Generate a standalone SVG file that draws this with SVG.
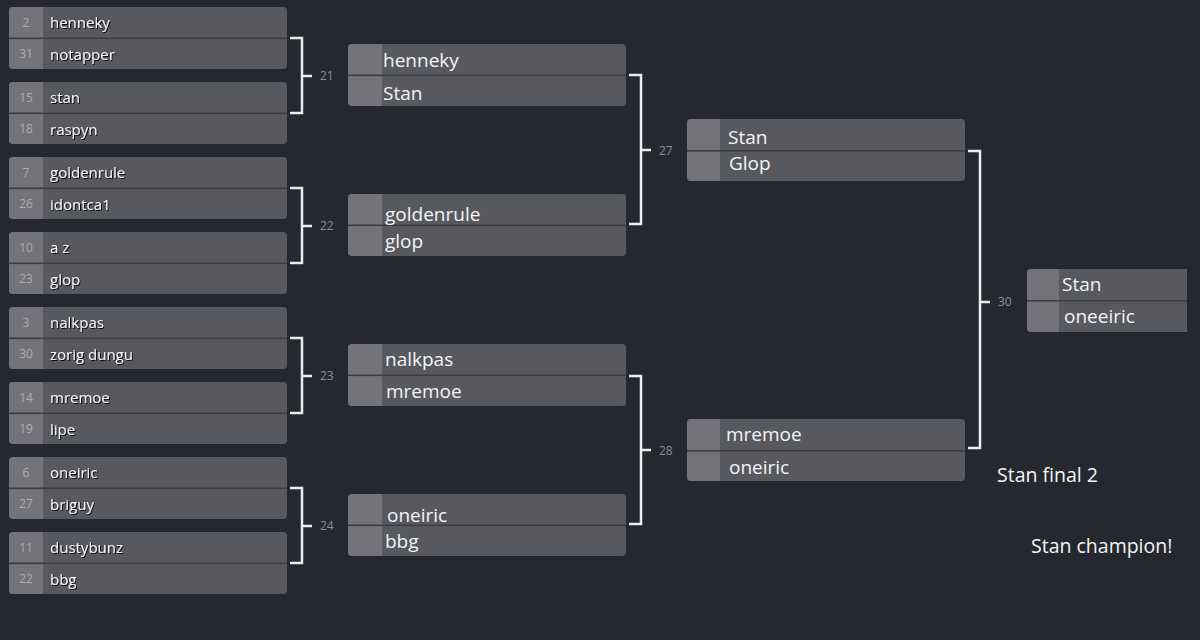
<svg xmlns="http://www.w3.org/2000/svg" xmlns:xlink="http://www.w3.org/1999/xlink" width="1200" height="640" viewBox="0 0 1200 640">
<style>
.bg{fill:#262830}
.nm1{font-family:"Open Sans","Liberation Sans",sans-serif;font-size:15px;fill:#f2f2f2;filter:url(#sh)}
.sd{font-family:"Open Sans","Liberation Sans",sans-serif;font-size:12px;fill:#acacb2;text-anchor:middle}
.nm2{font-family:"Open Sans","Liberation Sans",sans-serif;font-size:19px;fill:#f4f4f6}
.lbl{font-family:"Open Sans","Liberation Sans",sans-serif;font-size:12px;fill:#8c8d93}
.note{font-family:"Open Sans","Liberation Sans",sans-serif;font-size:19.5px;fill:#f4f4f6}
.br{fill:none;stroke:#ececec;stroke-width:2.5}
</style>
<defs>
<filter id="sh" x="-10%" y="-30%" width="130%" height="170%"><feDropShadow dx="1" dy="1" stdDeviation="0.6" flood-color="#000" flood-opacity="0.85"/></filter>
<clipPath id="cb"><rect width="278" height="62" rx="4"/></clipPath>
<clipPath id="cf"><path d="M4,0H160V63H4A4,4 0 0 1 0,59V4A4,4 0 0 1 4,0Z"/></clipPath>
<g id="box"><g clip-path="url(#cb)"><rect width="278" height="62" fill="#58595f"/><rect width="34" height="62" fill="#737379"/><rect y="30.5" width="278" height="1.6" fill="#3c3d43"/></g></g>
<g id="box3"><g clip-path="url(#cb)"><rect width="278" height="62" fill="#58595f"/><rect width="33" height="62" fill="#737379"/><rect y="31" width="278" height="1.6" fill="#3c3d43"/></g></g>
<g id="boxf"><g clip-path="url(#cf)"><rect width="160" height="63" fill="#58595f"/><rect width="32" height="63" fill="#737379"/><rect y="31" width="160" height="1.6" fill="#3c3d43"/></g></g>
</defs>
<rect class="bg" width="1200" height="640"/>

<g id="connectors">
<path class="br" d="M290,38H302V113H290M302,76H312"/>
<path class="br" d="M290,188H302V263H290M302,226H312"/>
<path class="br" d="M290,338H302V413H290M302,376H312"/>
<path class="br" d="M290,488H302V563H290M302,526H312"/>
<path class="br" d="M629,75H641V224H629M641,150H651"/>
<path class="br" d="M629,376H641V524H629M641,450H651"/>
<path class="br" d="M968,151H980V448H968M980,302H990"/>
<text class="lbl" x="320" y="80">21</text>
<text class="lbl" x="320" y="230">22</text>
<text class="lbl" x="320" y="380">23</text>
<text class="lbl" x="320" y="530">24</text>
<text class="lbl" x="659" y="155">27</text>
<text class="lbl" x="659" y="455">28</text>
<text class="lbl" x="998" y="306">30</text>
</g>

<g id="m1"><use href="#box" x="9" y="7"/><text class="sd" x="26" y="27">2</text><text class="nm1" x="50" y="28">henneky</text><text class="sd" x="26" y="58">31</text><text class="nm1" x="50" y="60">notapper</text></g>
<g id="m2"><use href="#box" x="9" y="82"/><text class="sd" x="26" y="102">15</text><text class="nm1" x="50" y="103">stan</text><text class="sd" x="26" y="133">18</text><text class="nm1" x="50" y="135">raspyn</text></g>
<g id="m3"><use href="#box" x="9" y="157"/><text class="sd" x="26" y="177">7</text><text class="nm1" x="50" y="178">goldenrule</text><text class="sd" x="26" y="208">26</text><text class="nm1" x="50" y="210">idontca1</text></g>
<g id="m4"><use href="#box" x="9" y="232"/><text class="sd" x="26" y="252">10</text><text class="nm1" x="50" y="253">a z</text><text class="sd" x="26" y="283">23</text><text class="nm1" x="50" y="285">glop</text></g>
<g id="m5"><use href="#box" x="9" y="307"/><text class="sd" x="26" y="327">3</text><text class="nm1" x="50" y="328">nalkpas</text><text class="sd" x="26" y="358">30</text><text class="nm1" x="50" y="360">zorig dungu</text></g>
<g id="m6"><use href="#box" x="9" y="382"/><text class="sd" x="26" y="402">14</text><text class="nm1" x="50" y="403">mremoe</text><text class="sd" x="26" y="433">19</text><text class="nm1" x="50" y="435">lipe</text></g>
<g id="m7"><use href="#box" x="9" y="457"/><text class="sd" x="26" y="477">6</text><text class="nm1" x="50" y="478">oneiric</text><text class="sd" x="26" y="508">27</text><text class="nm1" x="50" y="510">briguy</text></g>
<g id="m8"><use href="#box" x="9" y="532"/><text class="sd" x="26" y="552">11</text><text class="nm1" x="50" y="553">dustybunz</text><text class="sd" x="26" y="583">22</text><text class="nm1" x="50" y="585">bbg</text></g>

<g id="m21"><use href="#box" x="348" y="44"/><text class="nm2" x="383" y="67">henneky</text><text class="nm2" x="383" y="100">Stan</text></g>
<g id="m22"><use href="#box" x="348" y="194"/><text class="nm2" x="385" y="221">goldenrule</text><text class="nm2" x="385" y="248">glop</text></g>
<g id="m23"><use href="#box" x="348" y="344"/><text class="nm2" x="385" y="366">nalkpas</text><text class="nm2" x="386" y="398">mremoe</text></g>
<g id="m24"><use href="#box" x="348" y="494"/><text class="nm2" x="387" y="522">oneiric</text><text class="nm2" x="385" y="548">bbg</text></g>

<g id="m27"><use href="#box3" x="687" y="119"/><text class="nm2" x="728" y="144">Stan</text><text class="nm2" x="729" y="170">Glop</text></g>
<g id="m28"><use href="#box3" x="687" y="419"/><text class="nm2" x="726" y="441">mremoe</text><text class="nm2" x="729" y="474">oneiric</text></g>
<g id="m30"><use href="#boxf" x="1027" y="269"/><text class="nm2" x="1062" y="291">Stan</text><text class="nm2" x="1064" y="323">oneeiric</text></g>

<text class="note" x="997" y="482">Stan final 2</text>
<text class="note" x="1031" y="553">Stan champion!</text>
</svg>
